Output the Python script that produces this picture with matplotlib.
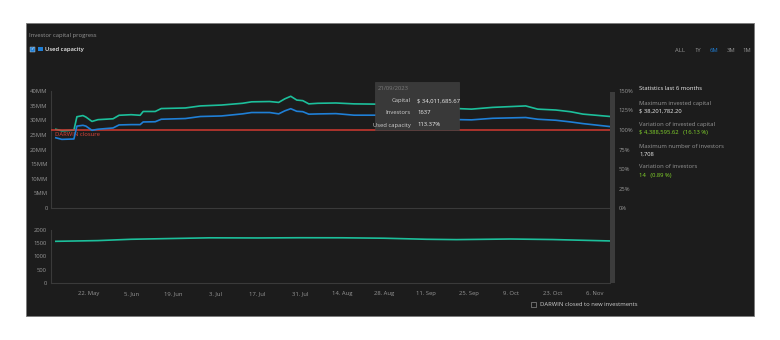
import datetime as dt
import matplotlib
matplotlib.use("Agg")
import matplotlib.pyplot as plt
from matplotlib.patches import Rectangle
from matplotlib.ticker import FixedLocator, FuncFormatter

plt.rcParams['font.family'] = ['Open Sans', 'DejaVu Sans']

W, H = 780, 340

# capital (USD millions) and used capacity (%) over the last 6 months
cap_dates = ["2023-05-11", "2023-05-13", "2023-05-17", "2023-05-18", "2023-05-20", "2023-05-21",
             "2023-05-23", "2023-05-25", "2023-05-30", "2023-06-01", "2023-06-05", "2023-06-08",
             "2023-06-09", "2023-06-13", "2023-06-15", "2023-06-23", "2023-06-28", "2023-07-05",
             "2023-07-12", "2023-07-15", "2023-07-21", "2023-07-24", "2023-07-26", "2023-07-28",
             "2023-07-30", "2023-08-01", "2023-08-03", "2023-08-06", "2023-08-12", "2023-08-18",
             "2023-08-26", "2023-09-01", "2023-09-10", "2023-09-15", "2023-09-21", "2023-09-26",
             "2023-10-03", "2023-10-14", "2023-10-18", "2023-10-24", "2023-10-29", "2023-11-02",
             "2023-11-11"]
capital = [26.9, 26.4, 26.6, 31.2, 31.6, 31.1,
           29.6, 30.2, 30.5, 31.7, 31.9, 31.7,
           33.0, 33.0, 34.0, 34.2, 34.9, 35.2,
           35.8, 36.3, 36.4, 36.1, 37.3, 38.2,
           36.9, 36.7, 35.6, 35.8, 35.9, 35.6,
           35.5, 35.3, 34.8, 34.3, 34.01, 33.8,
           34.4, 34.9, 33.8, 33.5, 32.9, 32.1,
           31.29]
used_capacity = [90.0, 88.0, 88.5, 105.0, 106.0, 105.0,
                 99.6, 101.0, 102.6, 106.5, 106.9, 106.9,
                 110.3, 110.6, 113.8, 114.7, 117.3, 118.0,
                 120.7, 122.4, 122.4, 120.7, 124.5, 127.3,
                 124.0, 123.5, 120.3, 120.6, 121.0, 119.0,
                 119.0, 118.0, 116.0, 114.5, 113.37, 113.0,
                 115.0, 116.0, 113.8, 112.5, 110.3, 108.2,
                 104.4]

inv_dates = ["2023-05-11", "2023-05-25", "2023-06-05", "2023-06-19", "2023-07-01", "2023-07-17",
             "2023-07-31", "2023-08-14", "2023-08-28", "2023-09-11", "2023-09-21", "2023-10-09",
             "2023-10-23", "2023-11-11"]
investors = [1573, 1600, 1650, 1680, 1705, 1700,
             1708, 1706, 1690, 1650, 1637, 1660,
             1640, 1587]

cap_ticks = [0, 5, 10, 15, 20, 25, 30, 35, 40]
pct_ticks = [0, 25, 50, 75, 100, 125, 150]
inv_ticks = [0, 500, 1000, 1500, 2000]
date_ticks = ["2023-05-22", "2023-06-05", "2023-06-19", "2023-07-03", "2023-07-17", "2023-07-31",
              "2023-08-14", "2023-08-28", "2023-09-11", "2023-09-25", "2023-10-09", "2023-10-23",
              "2023-11-06"]
closure_level = 100

to_d = lambda s: dt.datetime.strptime(s, "%Y-%m-%d")
cap_x = [to_d(s) for s in cap_dates]
inv_x = [to_d(s) for s in inv_dates]
tick_x = [to_d(s) for s in date_ticks]
x_lo = to_d("2023-05-22") - dt.timedelta(days=12.6)
x_hi = to_d("2023-11-06") + dt.timedelta(days=5)

BG = "#1c1c1c"
TEAL = "#1cbf9b"
BLUE = "#1f7fd6"
RED = "#d23a30"
GREY = "#969696"
LIGHT = "#eeeeee"
GREEN = "#84d62c"
FS = 4.2

fig = plt.figure(figsize=(W / 100, H / 100), dpi=100)
fig.patch.set_facecolor("white")


def fx(x):
    return x / W


def fy(y):
    return 1 - y / H


def box(x0, y0, x1, y1):
    return [fx(x0), fy(y1), fx(x1) - fx(x0), fy(y0) - fy(y1)]


def rect(x0, y0, x1, y1, **kw):
    fig.patches.append(Rectangle((fx(x0), fy(y1)), fx(x1) - fx(x0), fy(y0) - fy(y1),
                                 transform=fig.transFigure, **kw))


# dark panel behind everything
rect(26, 23, 754, 316, facecolor=BG, edgecolor="#7a7a7a", linewidth=0.6, zorder=-5)


def style(ax):
    ax.set_facecolor("none")
    for s in ["top", "right"]:
        ax.spines[s].set_visible(False)
    for s in ["left", "bottom"]:
        ax.spines[s].set_color("#3a3a3a")
        ax.spines[s].set_linewidth(0.8)
    ax.tick_params(length=0, colors=GREY, labelsize=FS)


# capital / used capacity chart
ax = fig.add_axes(box(51, 91, 610, 208))
style(ax)
ax.plot(cap_x, [c * 1e6 for c in capital], color=TEAL, lw=1.2, zorder=3)
ax.set_ylim(0, 40e6)
ax.set_xlim(x_lo, x_hi)
ax.yaxis.set_major_locator(FixedLocator([v * 1e6 for v in cap_ticks]))
ax.yaxis.set_major_formatter(FuncFormatter(lambda v, p: f"{int(round(v / 1e6))}MM" if v else "0"))
ax.tick_params(axis="y", pad=2.5)
ax.set_xticks(tick_x)
ax.tick_params(axis="x", labelbottom=False)

ax2 = ax.twinx()
ax2.set_facecolor("none")
for s in ax2.spines.values():
    s.set_visible(False)
ax2.set_ylim(0, 150)
ax2.set_yticks(pct_ticks)
ax2.set_yticklabels([f"{v}%" for v in pct_ticks])
ax2.tick_params(length=0, colors=GREY, labelsize=FS, pad=6)
ax2.axhline(closure_level, color=RED, lw=1.1, zorder=2)
ax2.plot(cap_x, used_capacity, color=BLUE, lw=1.2, zorder=4)
ax2.text(0.008, closure_level - 3, "DARWIN closure", color="#e0453a", fontsize=FS,
         transform=ax2.get_yaxis_transform(), ha="left", va="top", zorder=3)

# investors chart
axb = fig.add_axes(box(51, 230, 610, 283))
style(axb)
axb.plot(inv_x, investors, color=TEAL, lw=1.2)
axb.set_ylim(0, 2000)
axb.set_xlim(x_lo, x_hi)
axb.set_yticks(inv_ticks)
axb.tick_params(axis="y", pad=3)
axb.set_xticks(tick_x)
axb.set_xticklabels([f"{d.day}. {d.strftime('%b')}" for d in tick_x])
axb.tick_params(axis="x", pad=6)

# navigator bar on the right of the plots
rect(610, 92, 615, 283, facecolor="#3c3c3c", edgecolor="none", zorder=5)

# header
fig.text(fx(29), fy(35), "Investor capital progress", color=GREY, fontsize=FS, va="center")
rect(30, 47, 34.5, 51.5, facecolor=BLUE, edgecolor="#d0d0d0", linewidth=0.3)
fig.text(fx(32.2), fy(49.2), "\u2713", color="white", fontsize=3.2, ha="center", va="center",
         family=["DejaVu Sans"])
rect(37.5, 47, 42.5, 51, facecolor=BLUE, edgecolor="none")
fig.text(fx(45), fy(49.2), "Used capacity", color=LIGHT, fontsize=FS, va="center",
         fontweight="semibold")

for lbl, x, c in [("ALL", 680, GREY), ("1Y", 698, GREY), ("6M", 714, BLUE),
                  ("3M", 731, GREY), ("1M", 747, GREY)]:
    fig.text(fx(x), fy(50), lbl, color=c, fontsize=FS, ha="center", va="center")

# statistics panel
sx = 639
fig.text(fx(sx), fy(89), "Statistics last 6 months", color=LIGHT, fontsize=FS, va="center")
stats = [
    (103, "Maximum invested capital", GREY), (111.5, "$ 38,201,782.20", LIGHT),
    (124.5, "Variation of invested capital", GREY), (133, "$ 4,388,595.62   (16.13 %)", GREEN),
    (146, "Maximum number of investors", GREY), (154.5, "1,708", LIGHT),
    (167, "Variation of investors", GREY), (175.5, "14   (0.89 %)", GREEN),
]
for y, s, c in stats:
    fig.text(fx(sx), fy(y), s, color=c, fontsize=FS, va="center")

# tooltip
rect(375, 82, 459, 130, facecolor="#393939", edgecolor="#444444", linewidth=0.4, zorder=5)
fig.text(fx(378), fy(88.5), "21/09/2023", color="#7a7a7a", fontsize=FS, va="center", zorder=6)
for y, k, v in [(100.5, "Capital", "$ 34,011,685.67"), (113, "Investors", "1637"),
                (125, "Used capacity", "113.37%")]:
    fig.text(fx(411), fy(y), k, color="#cfcfcf", fontsize=FS, ha="right", va="center", zorder=6)
    fig.text(fx(417), fy(y), v, color=LIGHT, fontsize=FS, ha="left", va="center", zorder=6)

# closed-to-investments legend
rect(531, 302, 536, 307, facecolor="none", edgecolor="#8a8a8a", linewidth=0.5)
fig.text(fx(540), fy(304.5), "DARWIN closed to new investments", color="#cfcfcf", fontsize=FS,
         va="center")

fig.savefig("out.png", dpi=100, facecolor=fig.get_facecolor())
